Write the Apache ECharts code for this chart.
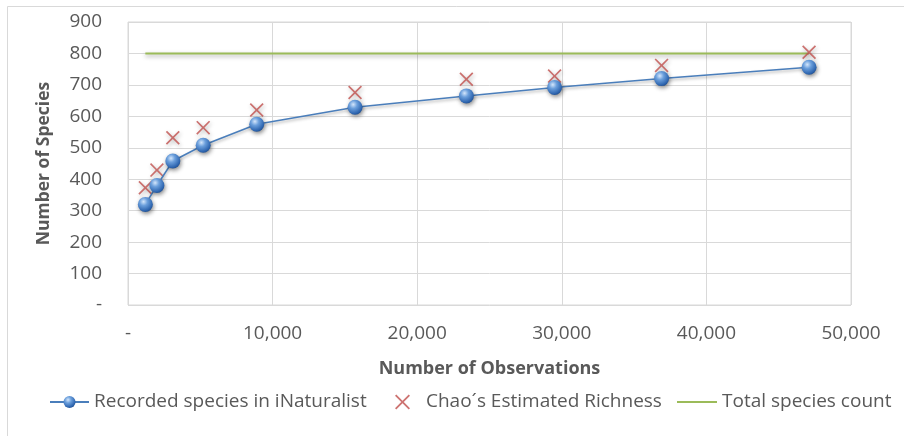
<!DOCTYPE html>
<html>
<head>
<meta charset="utf-8">
<script src="https://cdn.jsdelivr.net/npm/echarts@6/dist/echarts.min.js"></script>
<style>
  html, body { margin: 0; padding: 0; background: #fff; }
  #chart { width: 904px; height: 436px; }
</style>
</head>
<body>
<div id="chart"></div>
<script>
// ---- data ----
const observations    = [1200, 2000, 3100, 5200, 8900, 15700, 23400, 29500, 36900, 47100];
const recordedSpecies = [320, 380, 458, 508, 575, 629, 665, 692, 720, 756];
const chaoRichness    = [373, 429, 532, 564, 620, 676, 718, 728, 762, 804];
const totalSpecies    = [800, 800];
const totalSpeciesX   = [1200, 47100];
const seriesNames = ['Recorded species in iNaturalist', 'Chao\u00B4s Estimated Richness', 'Total species count'];
const xAxisTitle = 'Number of Observations';
const yAxisTitle = 'Number of Species';

// ---- build ----
const recordedData = observations.map((x, i) => [x, recordedSpecies[i]]);
const chaoData = observations.map((x, i) => [x, chaoRichness[i]]);
const totalData = totalSpeciesX.map((x, i) => [x, totalSpecies[i]]);

const FONT = 'Open Sans';
const TXT = '#595959';
const GRID = '#d9d9d9';
const crossPath = 'path://M0,1.2L1.2,0L7,5.8L12.8,0L14,1.2L8.2,7L14,12.8L12.8,14L7,8.2L1.2,14L0,12.8L5.8,7Z';
const sphere = {
  type: 'radial', x: 0.38, y: 0.32, r: 0.75,
  colorStops: [
    { offset: 0, color: '#d4e6fb' },
    { offset: 0.35, color: '#6b9fdc' },
    { offset: 0.8, color: '#2f66b0' },
    { offset: 1, color: '#1d4a88' }
  ]
};
const fmt = v => v === 0 ? '-' : v.toLocaleString('en-US');

const chart = echarts.init(document.getElementById('chart'));
chart.setOption({
  animation: false,
  backgroundColor: '#fff',
  textStyle: { fontFamily: FONT },
  graphic: [{
    type: 'rect', left: 5, top: 4, shape: { width: 1000, height: 1000 },
    style: { fill: 'none', stroke: GRID, lineWidth: 1 }, silent: true, z: -1
  }],
  grid: { left: 128, top: 22, right: 53, bottom: 131, show: true, borderColor: GRID, borderWidth: 1 },
  xAxis: {
    type: 'value', min: 0, max: 50000, interval: 10000,
    axisLine: { show: false }, axisTick: { show: false },
    splitLine: { show: true, lineStyle: { color: GRID, width: 1 } },
    axisLabel: { formatter: fmt, color: TXT, fontSize: 19, fontFamily: FONT, margin: 19 },
    name: xAxisTitle, nameLocation: 'middle', nameGap: 55,
    nameTextStyle: { color: TXT, fontSize: 18, fontWeight: 'bold', fontFamily: FONT }
  },
  yAxis: {
    type: 'value', min: 0, max: 900, interval: 100,
    axisLine: { show: false }, axisTick: { show: false },
    splitLine: { show: true, lineStyle: { color: GRID, width: 1 } },
    axisLabel: { formatter: fmt, color: TXT, fontSize: 19, fontFamily: FONT, margin: 26 },
    name: yAxisTitle, nameLocation: 'middle', nameGap: 75, nameRotate: 90,
    nameTextStyle: { color: TXT, fontSize: 17.5, fontWeight: 'bold', fontFamily: FONT }
  },
  legend: [
    { data: [seriesNames[0]], left: 49, top: 392, padding: 0, itemWidth: 39, itemHeight: 15,
      textStyle: { color: TXT, fontSize: 19, fontFamily: FONT, lineHeight: 20 } },
    { data: [seriesNames[1]], left: 395, top: 392, padding: 0, itemWidth: 15, itemHeight: 15,
      textStyle: { color: TXT, fontSize: 19, fontFamily: FONT, lineHeight: 20, padding: [0, 0, 0, 11] } },
    { data: [{ name: seriesNames[2], icon: 'rect' }], left: 677, top: 392, padding: 0, itemWidth: 40, itemHeight: 2,
      textStyle: { color: TXT, fontSize: 19, fontFamily: FONT, lineHeight: 20 } }
  ],
  series: [
    {
      name: seriesNames[2], type: 'line', data: totalData, symbol: 'none', z: 2,
      lineStyle: { color: '#9bbb59', width: 2, shadowBlur: 4, shadowColor: 'rgba(0,0,0,0.35)', shadowOffsetY: 2 },
      itemStyle: { color: '#9bbb59' }
    },
    {
      name: seriesNames[1], type: 'scatter', data: chaoData, symbol: crossPath, symbolSize: 14, z: 3,
      itemStyle: { color: '#c0504d', shadowBlur: 4, shadowColor: 'rgba(0,0,0,0.35)', shadowOffsetX: 1, shadowOffsetY: 2 }
    },
    {
      name: seriesNames[0], type: 'line', data: recordedData, symbol: 'circle', symbolSize: 15, z: 4,
      showAllSymbol: true,
      lineStyle: { color: '#4a7ebb', width: 1.5, shadowBlur: 3, shadowColor: 'rgba(0,0,0,0.3)', shadowOffsetY: 2 },
      itemStyle: { color: sphere, shadowBlur: 4, shadowColor: 'rgba(0,0,0,0.45)', shadowOffsetX: 1, shadowOffsetY: 2 }
    }
  ]
});
</script>
</body>
</html>
